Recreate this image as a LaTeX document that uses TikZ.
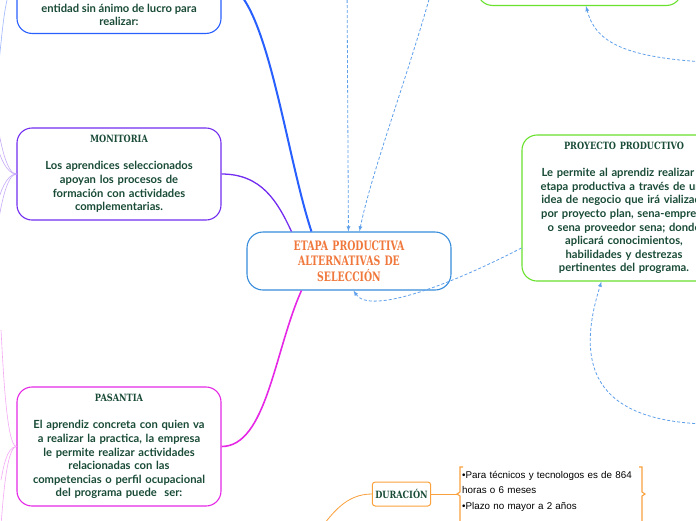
\documentclass[tikz,border=0pt]{standalone}
\usepackage{fontspec}
\newfontfamily\bodyfont{Lato}
\newfontfamily\headfont[FakeStretch=0.82]{DejaVu Serif}
\newfontfamily\bigheadfont[FakeStretch=0.72]{DejaVu Serif}
\newfontfamily\notefont{Liberation Sans}

\definecolor{txtgreen}{RGB}{25,75,55}
\definecolor{mainorange}{RGB}{240,120,60}
\definecolor{mainblue}{RGB}{55,140,220}
\definecolor{relblue}{RGB}{95,160,235}
\definecolor{topblue}{RGB}{40,95,255}
\definecolor{monpurple}{RGB}{115,45,240}
\definecolor{pasmagenta}{RGB}{230,40,230}
\definecolor{proygreen}{RGB}{105,225,45}
\definecolor{duraorange}{RGB}{250,160,60}

\tikzset{
  topic/.style={draw, rounded corners=15pt, line width=1.1pt, fill=white,
    minimum width=204pt, text width=200pt, inner sep=2pt, align=center,
    text=txtgreen, font=\bodyfont\bfseries\fontsize{11.2}{13.6}\selectfont},
  relation/.style={draw=relblue, dash pattern=on 3pt off 2pt, line width=0.8pt, -latex},
  twig/.style={line width=0.6pt},
}
\newcommand{\boxtitle}[1]{{\headfont\bfseries\fontsize{10}{13.6}\selectfont #1}\\[13.6pt]}

\begin{document}
\begin{tikzpicture}[x=1pt,y=-1pt]
  \useasboundingbox (0,0) rectangle (696,520);
  \fill[white] (0,0) rectangle (696,520);
  \clip (0,0) rectangle (696,520);

  % main topic
  \node[topic, draw=mainblue, rounded corners=16pt, minimum height=58pt, text=mainorange,
        font=\bigheadfont\bfseries\fontsize{13}{15.5}\selectfont] (centro) at (349,261)
        {ETAPA PRODUCTIVA\\ALTERNATIVAS DE\\SELECCIÓN};

  % subtopics
  \node[topic, draw=topblue, minimum height=100pt, anchor=south] (entidad) at (119,34) {};
  \node[text=txtgreen, align=center, font=\bodyfont\bfseries\fontsize{11.2}{13.6}\selectfont]
        at (119,15) {entidad sin ánimo de lucro para\\realizar:};

  \node[topic, draw=monpurple, minimum height=92pt] (monitoria) at (119,174)
        {\boxtitle{MONITORIA}Los aprendices seleccionados\\apoyan los procesos de\\formación con actividades\\complementarias.};

  \node[topic, draw=pasmagenta, minimum height=119pt] (pasantia) at (119,446.5)
        {\boxtitle{PASANTIA}El aprendiz concreta con quien va\\a realizar la practica, la empresa\\le permite realizar actividades\\relacionadas con las\\competencias o perfil ocupacional\\del programa puede \ ser:};

  \node[topic, draw=proygreen, minimum height=146pt] (proyecto) at (624,208)
        {\boxtitle{PROYECTO PRODUCTIVO}Le permite al aprendiz realizar la\\etapa productiva a través de una\\idea de negocio que irá vializada\\por proyecto plan, sena-empresa\\o sena proveedor sena; donde\\aplicará conocimientos,\\habilidades y destrezas\\pertinentes del programa.};

  \node[topic, draw=proygreen, minimum width=195pt, minimum height=80pt, anchor=south] (cajaverde) at (579.5,6) {};

  \node[draw=duraorange, rounded corners=3pt, line width=1pt, inner xsep=3pt, minimum height=24pt,
        text=txtgreen, font=\headfont\bfseries\fontsize{10}{12}\selectfont] (duracion) at (401.5,494) {DURACIÓN};

  % branches to the main topic
  \draw[topblue, line width=2pt] (entidad.east) .. controls +(44,0) and +(-27,-82) .. ([xshift=65pt]centro.north west);
  \draw[monpurple, line width=1.3pt] (monitoria.east) .. controls +(40,0) and +(-14,-30) .. ([xshift=45pt]centro.north west);
  \draw[pasmagenta, line width=1.6pt] (pasantia.east) .. controls +(45,0) and +(-27,60) .. ([xshift=55pt]centro.south west);

  % branches leaving the page on the left
  \draw[twig, topblue!45] (entidad.west) .. controls +(-12,0) and +(4,-30) .. (-2,70);
  \foreach \y in {120,145,205,232}
    \draw[twig, monpurple!40] (monitoria.west) .. controls +(-10,0) and +(3,0.4*174-0.4*\y) .. (-3,\y);
  \foreach \y in {330,480,525}
    \draw[twig, pasmagenta!40] (pasantia.west) .. controls +(-10,0) and +(2,0.3*446-0.3*\y) .. (1,\y);

  % relations
  \coordinate (arribaA) at (347,-20);
  \coordinate (arribaB) at (433,-15);
  \coordinate (derechaA) at (705,424);
  \coordinate (derechaB) at (705,62);
  \draw[relation] (arribaA) -- ([xshift=102pt]centro.north west);
  \draw[relation] (arribaB) .. controls (410,70) and (372,170) .. ([xshift=113pt]centro.north west);
  \draw[relation] ([yshift=-40pt]proyecto.west) .. controls (450,285) and (370,315) .. ([xshift=107pt]centro.south west);
  \draw[relation] (derechaA) .. controls (580,420) and (580,350) .. ([xshift=80pt]proyecto.south west);
  \draw[relation] (derechaB) .. controls (620,57) and (595,40) .. ([xshift=109pt]cajaverde.south west);

  % duracion
  \coordinate (abajo) at (318,532);
  \coordinate (llave) at (457,494);
  \draw[duraorange, line width=0.8pt] (duracion.west) .. controls +(-25,0) and +(15,-20) .. (abajo);
  \draw[duraorange, line width=0.8pt] (duracion.east) -- (llave);
  \draw[duraorange, line width=1.1pt] (463,467) -- (460,467) -- (460,492) -- (llave) -- (460,496) -- (460,530);
  \draw[duraorange, line width=1.1pt] (639,467) -- (642,467) -- (642,492) -- (645,494) -- (642,496) -- (642,530);
  \node[anchor=north west, text width=180pt, align=left, inner sep=0pt,
        font=\notefont\fontsize{9.8}{15.5}\selectfont] (notas) at (462,471)
        {•Para técnicos y tecnologos es de 864\\horas o 6 meses\\•Plazo no mayor a 2 años};
\end{tikzpicture}
\end{document}
